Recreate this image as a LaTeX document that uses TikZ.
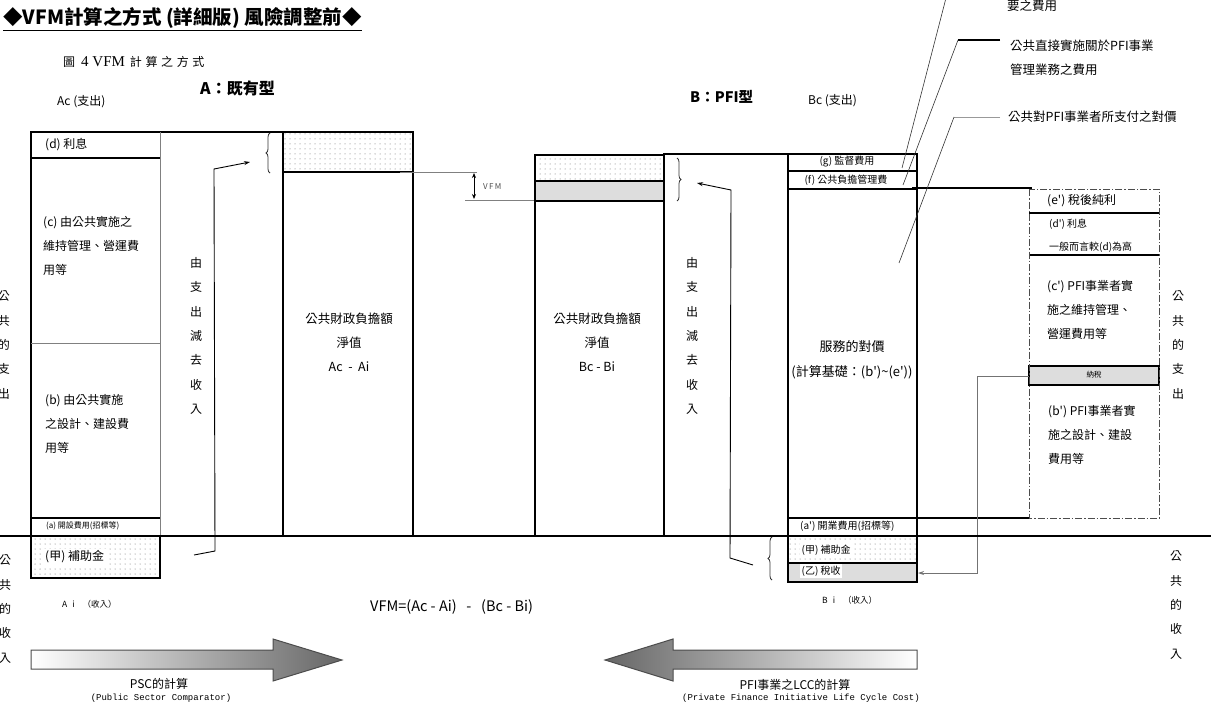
\documentclass[tikz,border=0pt]{standalone}
\usepackage{fontspec}
\setmainfont{Noto Sans CJK TC}
\setmonofont{Liberation Mono}
\newfontfamily\capfont{Liberation Serif}
\usetikzlibrary{patterns.meta, decorations.pathreplacing, arrows.meta}
\newcommand{\pr}{\textquotesingle}
\tikzset{
    box_line/.style={draw=black, line width=1.1pt},
    grey_line/.style={draw=black!50, line width=0.9pt},
    dots_fill/.style={pattern={Dots[distance=5pt, radius=0.5pt]}, pattern color=black!60},
    mesh_fill/.style={preaction={fill=black!10}, pattern={Dots[distance=2pt, radius=0.45pt]}, pattern color=black!45},
    dashdot_line/.style={draw=black!70, line width=0.9pt, dash pattern={on 7pt off 2pt on 1.5pt off 2pt}},
    lbl_text/.style={anchor=west, inner sep=0pt, align=left, font=\fontsize{12}{24}\selectfont},
    mid_text/.style={anchor=center, inner sep=0pt, align=center, font=\fontsize{12.5}{24}\selectfont},
    small_text/.style={anchor=west, inner sep=0pt, font=\fontsize{10}{12}\selectfont},
    tiny_text/.style={anchor=west, inner sep=0pt, font=\fontsize{8}{9}\selectfont},
    vert_text/.style={anchor=center, inner sep=0pt, align=center, font=\fontsize{12}{24.3}\selectfont},
    head_text/.style={anchor=west, inner sep=0pt, font=\fontsize{16}{18}\selectfont\bfseries},
    flow_arrow/.style={-{Stealth[length=6pt, width=4pt]}, line width=0.9pt, draw=black},
    leader_line/.style={line width=0.6pt, draw=black!80},
    brace_line/.style={decorate, decoration={brace, amplitude=4pt}, line width=0.8pt, draw=black!80},
    big_arrow/.style={draw=black!70, line width=1pt}
}

\begin{document}
\begin{tikzpicture}[x=1pt, y=-1pt, >=stealth]
    \useasboundingbox (0,0) rectangle (1214,704);
    % headings
    \node[anchor=west, inner sep=0pt, font=\fontsize{19.5}{22}\selectfont\bfseries] (title) at (3,19)
        {\underline{◆VFM計算之方式 (詳細版) 風險調整前◆}};
    \node[anchor=west, inner sep=0pt, font=\fontsize{12}{14}\selectfont] (caption) at (63,62)
        {圖\hspace{6pt}{\capfont\fontsize{15}{16}\selectfont 4 VFM}\hspace{5pt}{\addfontfeature{LetterSpace=30}計算之方式}};
    \node[head_text] (typea) at (200,88) {A：既有型};
    \node[lbl_text] (acpay) at (57,102) {Ac (支出)};
    \node[head_text, font=\fontsize{14.5}{18}\selectfont\bfseries] (typeb) at (690,97) {B：PFI型};
    \node[lbl_text] (bcpay) at (808,101) {Bc (支出)};

    % A: conventional
    \draw[box_line] (31,132) rectangle (283,536);
    \draw[box_line] (31,158) -- (160,158);
    \draw[grey_line] (31,343) -- (160,343);
    \draw[box_line] (31,518) -- (160,518);
    \draw[grey_line] (160,132) -- (160,536);
    \draw[box_line, dots_fill] (31,536) rectangle (160,578);
    \draw[box_line, dots_fill] (283,132) rectangle (413,172);
    \draw[box_line] (283,172) rectangle (413,536);
    \node[lbl_text] (ad) at (45,145) {(d) 利息};
    \node[lbl_text] (ac) at (43,246) {(c) 由公共實施之\\維持管理、營運費\\用等};
    \node[lbl_text] (ab) at (45,424) {(b) 由公共實施\\之設計、建設費\\用等};
    \node[tiny_text] (aa) at (46,526) {(a) 開設費用(招標等)};
    \node[lbl_text, fill=white, inner sep=2pt] (asub) at (43,557) {(甲) 補助金};
    \node[tiny_text, font=\fontsize{8.5}{9}\selectfont] (ai) at (62,604) {A\hspace{5pt}i\hspace{8pt}（收入）};
    \node[vert_text] (aminus) at (196,336) {由\\支\\出\\減\\去\\收\\入};
    \node[mid_text] (anet) at (349,342) {公共財政負擔額\\淨值\\Ac\ \ -\ \ Ai};
    \draw[brace_line] (270,173) -- (270,133);
    \coordinate (a_flow_start) at (194,555);
    \coordinate (a_flow_bend) at (215,551);
    \coordinate (a_flow_top) at (214,169);
    \coordinate (a_brace_tip) at (250,162);
    \draw[flow_arrow] (a_flow_start) -- (a_flow_bend) -- (a_flow_top) -- (a_brace_tip);

    % VFM gap
    \draw[grey_line] (400,172) -- (477,172);
    \draw[grey_line] (465,200) -- (535,200);
    \coordinate (vfm_top) at (474,173);
    \coordinate (vfm_bot) at (474,199);
    \draw[{Stealth[length=5pt, width=4pt]}-{Stealth[length=5pt, width=4pt]}, line width=0.8pt] (vfm_top) -- (vfm_bot);
    \node[tiny_text, text=black!70] (vfm) at (483,187) {V\,F\,M};

    % B: PFI
    \draw[box_line, dots_fill] (535,155) rectangle (664,181);
    \draw[box_line, mesh_fill] (535,181) rectangle (664,201);
    \draw[box_line] (535,201) rectangle (664,536);
    \node[mid_text] (bnet) at (597,342) {公共財政負擔額\\淨值\\Bc - Bi};
    \draw[box_line] (664,154) rectangle (917,536);
    \draw[box_line] (788,154) -- (788,536);
    \draw[box_line] (788,171) -- (917,171);
    \draw[box_line] (788,189) -- (917,189);
    \draw[box_line] (788,518) -- (917,518);
    \draw[box_line, dots_fill] (788,536) rectangle (917,563);
    \draw[box_line, mesh_fill] (788,563) rectangle (917,582);
    \node[small_text, anchor=center] (bg) at (847,162) {(g) 監督費用};
    \node[small_text, anchor=center] (bf) at (846,180) {(f) 公共負擔管理費};
    \node[mid_text, font=\fontsize{13}{25}\selectfont] (bserv) at (852,360) {服務的對價\\(計算基礎：(b\pr)\textasciitilde(e\pr))};
    \node[small_text] (ba) at (800,526) {(a\pr) 開業費用(招標等)};
    \node[small_text, fill=white, inner sep=1.5pt] (bsub) at (800,550) {(甲) 補助金};
    \node[small_text, fill=white, inner sep=1.5pt] (btax) at (800,571) {(乙) 稅收};
    \node[tiny_text, font=\fontsize{8.5}{9}\selectfont] (bi) at (822,600) {B\hspace{5pt}i\hspace{8pt}（收入）};
    \node[vert_text] (bminus) at (692,336) {由\\支\\出\\減\\去\\收\\入};
    \draw[brace_line] (677,158) -- (677,201);
    \draw[brace_line] (772,580) -- (772,537);
    \coordinate (b_flow_start) at (753,565);
    \coordinate (b_flow_bend) at (730,558);
    \coordinate (b_flow_top) at (731,190);
    \coordinate (b_brace_tip) at (697,183);
    \draw[flow_arrow] (b_flow_start) -- (b_flow_bend) -- (b_flow_top) -- (b_brace_tip);

    % PFI operator costs
    \draw[box_line] (912,188) -- (1032,188);
    \draw[box_line] (917,518) -- (1029,518);
    \draw[box_line] (1029,213) -- (1159,213);
    \draw[box_line] (1029,255) -- (1159,255);
    \draw[box_line, mesh_fill] (1029,366) rectangle (1159,385);
    \draw[dashdot_line] (1029,189) rectangle (1159,518);
    \node[lbl_text] (pe) at (1047,201) {(e\pr) 稅後純利};
    \node[small_text, align=left, font=\fontsize{10}{23}\selectfont] (pd) at (1049,236) {(d\pr) 利息\\一般而言較(d)為高};
    \node[lbl_text] (pc) at (1047,310) {(c\pr) PFI事業者實\\施之維持管理、\\營運費用等};
    \node[tiny_text, anchor=center, font=\fontsize{7.5}{9}\selectfont] (ptax) at (1094,375) {納稅};
    \node[lbl_text] (pb) at (1048,435) {(b\pr) PFI事業者實\\施之設計、建設\\費用等};
    \coordinate (tax_start) at (1029,376);
    \coordinate (tax_top) at (977,376);
    \coordinate (tax_bot) at (977,573);
    \coordinate (tax_end) at (918,573);
    \draw[flow_arrow, draw=black!55] (tax_start) -- (tax_top) -- (tax_bot) -- (tax_end);

    % leaders to the top right notes
    \node[lbl_text, font=\fontsize{12.5}{24}\selectfont] (note_need) at (1007,6) {要之費用};
    \node[lbl_text, font=\fontsize{12.5}{24}\selectfont] (note_direct) at (1010,58) {公共直接實施關於PFI事業\\管理業務之費用};
    \node[lbl_text, font=\fontsize{12.5}{24}\selectfont] (note_pay) at (1008,117) {公共對PFI事業者所支付之對價};
    \coordinate (need_top) at (946,-2);
    \coordinate (need_end) at (902,168);
    \coordinate (direct_h) at (1000,40);
    \coordinate (direct_bend) at (958,40);
    \coordinate (direct_end) at (903,185);
    \coordinate (pay_h) at (1000,117);
    \coordinate (pay_bend) at (954,117);
    \coordinate (pay_end) at (899,263);
    \draw[leader_line] (need_top) -- (need_end);
    \draw[box_line] (direct_h) -- (direct_bend);
    \draw[leader_line] (direct_bend) -- (direct_end);
    \draw[grey_line, draw=black!40] (pay_h) -- (pay_bend);
    \draw[leader_line] (pay_bend) -- (pay_end);

    % ground line and side notes
    \draw[box_line] (0,536) -- (1211,536);
    \node[vert_text] (lpay) at (4,345) {公\\共\\的\\支\\出};
    \node[vert_text] (lincome) at (5,609) {公\\共\\的\\收\\入};
    \node[vert_text] (rpay) at (1178,345) {公\\共\\的\\支\\出};
    \node[vert_text] (rincome) at (1176,605) {公\\共\\的\\收\\入};
    \node[lbl_text, font=\fontsize{14.5}{16}\selectfont] (formula) at (370,607) {VFM=(Ac - Ai)\ \ \ -\ \ \ (Bc - Bi)};

    % calculation arrows
    \path[big_arrow, left color=white, right color=black!60]
        (31,650) -- (273,650) -- (273,639) -- (342,660) -- (273,681) -- (273,669) -- (31,669) -- cycle;
    \path[big_arrow, left color=black!60, right color=white]
        (917,650) -- (673,650) -- (673,639) -- (605,660) -- (673,681) -- (673,669) -- (917,669) -- cycle;
    \node[mid_text, font=\fontsize{12}{14}\selectfont] (psc) at (159,684) {PSC的計算};
    \node[anchor=center, inner sep=0pt, font=\ttfamily\fontsize{9}{10}\selectfont] (pscen) at (161,698) {(Public Sector Comparator)};
    \node[mid_text, font=\fontsize{12}{14}\selectfont] (lcc) at (795,685) {PFI事業之LCC的計算};
    \node[anchor=center, inner sep=0pt, font=\ttfamily\fontsize{9}{10}\selectfont] (lccen) at (801,698) {(Private Finance Initiative Life Cycle Cost)};
\end{tikzpicture}
\end{document}
